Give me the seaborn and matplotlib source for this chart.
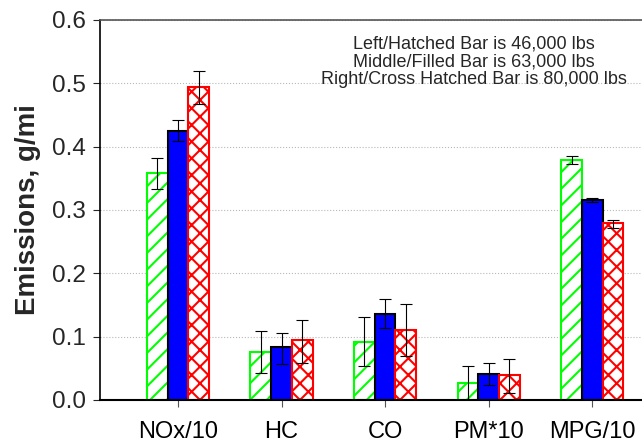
import pandas as pd
import matplotlib
matplotlib.use('Agg')
import matplotlib.pyplot as plt
import seaborn as sns

# Values
categories = ['NOx/10', 'HC', 'CO', 'PM*10', 'MPG/10']
weights = ['46,000 lbs', '63,000 lbs', '80,000 lbs']
val_46k = [0.359, 0.076, 0.092, 0.027, 0.379]
val_63k = [0.425, 0.083, 0.136, 0.041, 0.316]
val_80k = [0.494, 0.094, 0.111, 0.039, 0.279]
lo_46k = [0.333, 0.042, 0.054, 0.000, 0.373]
hi_46k = [0.382, 0.109, 0.131, 0.054, 0.386]
lo_63k = [0.409, 0.057, 0.114, 0.023, 0.312]
hi_63k = [0.442, 0.106, 0.159, 0.058, 0.319]
lo_80k = [0.468, 0.059, 0.069, 0.011, 0.271]
hi_80k = [0.519, 0.127, 0.151, 0.065, 0.285]

note_lines = ['Left/Hatched Bar is 46,000 lbs',
              'Middle/Filled Bar is 63,000 lbs',
              'Right/Cross Hatched Bar is 80,000 lbs']

sns.set_style('white')
plt.rcParams['font.family'] = ['Liberation Sans', 'DejaVu Sans']
plt.rcParams['hatch.linewidth'] = 1.5

df = pd.DataFrame({
    'Pollutant': categories * 3,
    'Weight': [w for w in weights for _ in categories],
    'Emissions': val_46k + val_63k + val_80k,
})

fig = plt.figure(figsize=(6.42, 4.43), dpi=100)
ax = fig.add_axes([100 / 642, 1 - 400 / 443, 542 / 642, 380 / 443])

sns.barplot(data=df, x='Pollutant', y='Emissions', hue='Weight',
            order=categories, hue_order=weights, width=0.6,
            errorbar=None, legend=False, ax=ax)

# left = hatched green, middle = filled blue, right = cross hatched red
styles = [
    dict(facecolor='white', edgecolor='#00ff00', hatch='//'),
    dict(facecolor='#0000ff', edgecolor='black', hatch=None),
    dict(facecolor='white', edgecolor='#ff0000', hatch='xx'),
]
lows = [lo_46k, lo_63k, lo_80k]
highs = [hi_46k, hi_63k, hi_80k]
for cont, st, lo, hi in zip(ax.containers, styles, lows, highs):
    xs, ys = [], []
    for bar in cont:
        bar.set_facecolor(st['facecolor'])
        bar.set_edgecolor(st['edgecolor'])
        bar.set_linewidth(1.5)
        if st['hatch']:
            bar.set_hatch(st['hatch'])
        xs.append(bar.get_x() + bar.get_width() / 2)
        ys.append(bar.get_height())
    yerr = [[y - l for y, l in zip(ys, lo)], [h - y for y, h in zip(ys, hi)]]
    ax.errorbar(xs, ys, yerr=yerr, fmt='none', ecolor='black',
                elinewidth=0.8, capsize=4, capthick=0.8, zorder=5)

ax.set_xlim(-0.753, 4.48)
ax.set_ylim(0, 0.6)
ax.set_yticks([0.0, 0.1, 0.2, 0.3, 0.4, 0.5, 0.6])
ax.set_yticklabels([f'{v:.1f}' for v in [0.0, 0.1, 0.2, 0.3, 0.4, 0.5, 0.6]])
ax.yaxis.grid(True, linestyle=':', color='#b8b8b8', linewidth=0.8)
ax.set_axisbelow(True)

ax.spines['right'].set_visible(False)
ax.spines['top'].set_color('#555555')
ax.spines['top'].set_linewidth(1.2)
ax.spines['left'].set_color('black')
ax.spines['bottom'].set_color('black')
ax.spines['left'].set_linewidth(1.2)
ax.spines['bottom'].set_linewidth(1.5)

ax.tick_params(axis='y', direction='out', length=5, width=0.8, labelsize=17.5,
               pad=5, left=True)
ax.tick_params(axis='x', direction='out', length=5, width=0.8, labelsize=17,
               pad=10, bottom=True, colors='#555555', labelcolor='black')

ax.set_xlabel('')
ax.set_ylabel('Emissions, g/mi', fontsize=20, fontweight='bold', labelpad=8)

ax.text(0.689, 0.958, '\n'.join(note_lines), transform=ax.transAxes,
        ha='center', va='top', fontsize=13, linespacing=1.05)

fig.savefig('out.png', dpi=100)
